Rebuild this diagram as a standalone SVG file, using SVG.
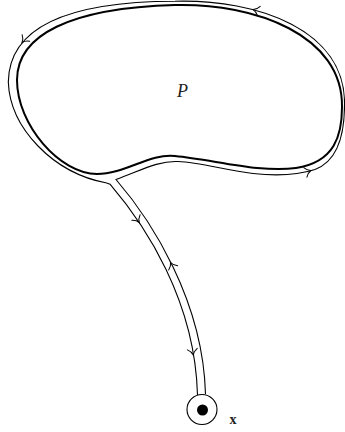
<svg xmlns="http://www.w3.org/2000/svg" xmlns:xlink="http://www.w3.org/1999/xlink" width="345" height="432" viewBox="0 0 345 432">
  <style>
    .thin { fill: none; stroke: #000; stroke-width: 1.1; stroke-linejoin: miter; }
    .thick { fill: none; stroke: #000; stroke-width: 2; }
    .arr { fill: none; stroke: #000; stroke-width: 1; stroke-linecap: round; }
    .lbl { font-family: "Liberation Serif", "Times New Roman", serif; fill: #222; }
  </style>
  <defs>
    <path id="arrowhead" class="arr" d="M-6,-5 C-4.5,-2.5 -2,-0.6 0,0 C-2,0.6 -4.5,2.5 -6,5"/>
  </defs>
  <rect width="345" height="432" fill="#fff"/>

  <g id="region-P">
    <path class="thick" d="M17,80 C17,35 70,8 175,5 C255,3 343,35 342,107 C342,135 335,162 296,168 C260,173 215,160 175,156 C150,153 125,174 97,174 C60,174 17,125 17,80 Z"/>
    <text class="lbl" x="177" y="96.5" font-size="18" font-style="italic">P</text>
  </g>

  <g id="contour">
    <path class="thin" d="M205.5,394 C203,300 151,220 116,179.5 C140,171 158,160.5 178,161.5 C200,162.5 225,170 253,173.5 C275,176 298,175 315,169.5 C335,162 344.5,140 344.5,105 C346,30 258,-1 175,1.2 C60,1.5 9,30 8.3,82 C10,128 53,173 106.7,183 L110,184.2 C145,225 195,300 197.5,395"/>
    <use xlink:href="#arrowhead" transform="translate(253.1,9.6) rotate(195)"/>
    <use xlink:href="#arrowhead" transform="translate(22,42.5) rotate(130.6)"/>
    <use xlink:href="#arrowhead" transform="translate(311,170.5) rotate(-19)"/>
    <use xlink:href="#arrowhead" transform="translate(139.3,222.5) rotate(56)"/>
    <use xlink:href="#arrowhead" transform="translate(170.5,262.5) rotate(243.6)"/>
    <use xlink:href="#arrowhead" transform="translate(193.3,355) rotate(80.7)"/>
  </g>

  <g id="point-x">
    <circle class="thin" cx="202" cy="409.5" r="15"/>
    <circle cx="202.5" cy="410" r="5.5" fill="#000"/>
    <text class="lbl" x="229.5" y="424" font-size="14" font-weight="bold">x</text>
  </g>
</svg>
